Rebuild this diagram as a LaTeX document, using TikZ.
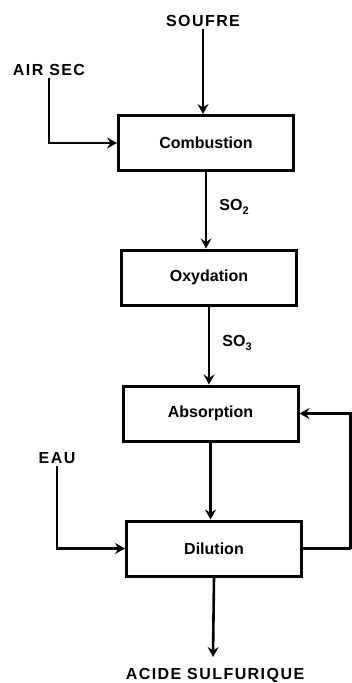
\documentclass[tikz,border=0pt]{standalone}
\usepackage{fontspec}
\setmainfont{Liberation Sans}
\newfontfamily\labelfont[LetterSpace=9]{Liberation Sans}
\usetikzlibrary{arrows.meta}
\newcommand{\chemsub}[1]{\raisebox{-3.5pt}{\fontsize{11}{11}\selectfont\bfseries #1}}
\tikzset{
  x=1pt, y=-1pt,
  flow/.style={line width=2.6pt, -{Stealth[length=10pt,width=11pt,inset=3.5pt]}},
  plain/.style={line width=2.6pt},
  unit/.style={draw, line width=3pt, minimum width=175pt, minimum height=55pt,
    inner sep=0pt, font=\fontsize{16}{18}\selectfont\bfseries},
  stream/.style={inner sep=2pt, font=\fontsize{16}{18}\labelfont\bfseries},
  gas/.style={inner sep=0pt, font=\fontsize{16}{18}\selectfont\bfseries},
}
\begin{document}
\begin{tikzpicture}
  \useasboundingbox (0,0) rectangle (352,683);

  % process units
  \node[unit] (comb) at (206,143)   {Combustion};
  \node[unit] (oxy)  at (209,277.5) {Oxydation};
  \node[unit] (abs)  at (210.5,413.5) {Absorption};
  \node[unit] (dil)  at (214,548.5) {Dilution};

  % feeds and products
  \node[stream] (soufre) at (203,21) {SOUFRE};
  \node[stream] (air)    at (49,70)  {AIR SEC};
  \node[stream] (eau)    at (57,458) {EAU};
  \node[stream] (acide)  at (215,675) {ACIDE SULFURIQUE};

  % intermediate gases
  \node[gas] (so2) at (234,207) {SO\chemsub{2}};
  \node[gas] (so3) at (237,343) {SO\chemsub{3}};

  \coordinate (ret)  at (350.5,548.5);
  \coordinate (prod) at (213,657);

  % main line
  \draw[flow] (soufre.south) -- (soufre.south |- comb.north);
  \draw[flow] (air.south) |- (comb.west);
  \draw[flow] (comb.south) -- (comb.south |- oxy.north);
  \draw[flow] (oxy.south) -- (oxy.south |- abs.north);
  \draw[flow] (abs.south) -- (abs.south |- dil.north);
  \draw[flow] (eau.south) |- (dil.west);
  \draw[flow] (dil.south) -- (prod);

  % acid recycle to the absorber
  \draw[plain] (dil.east) -- (ret);
  \draw[flow] (ret) |- (abs.east);
\end{tikzpicture}
\end{document}
